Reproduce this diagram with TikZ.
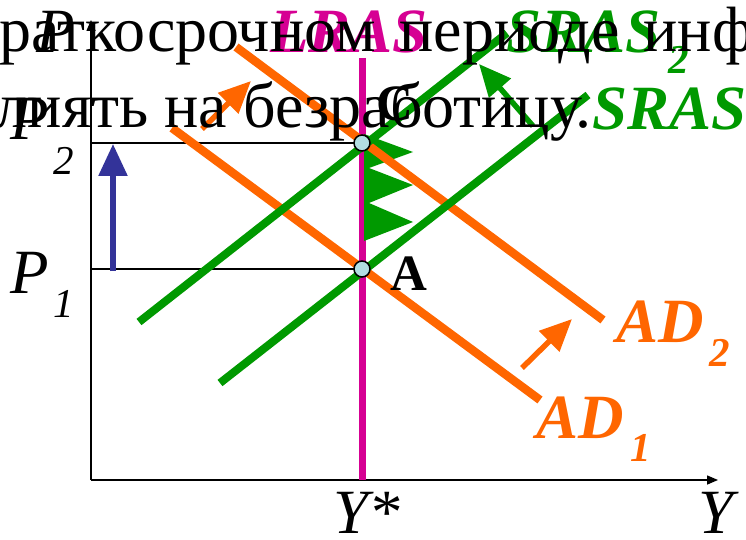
\documentclass[tikz,border=0pt]{standalone}
\usepackage{fontspec}
\setmainfont{Liberation Serif}
\usetikzlibrary{arrows.meta}
\definecolor{orng}{RGB}{255,102,0}
\definecolor{grn}{RGB}{0,153,0}
\definecolor{mag}{RGB}{214,0,147}
\definecolor{blu}{RGB}{51,51,153}
\definecolor{ptfill}{RGB}{178,222,226}
\newcommand\bigtxt{\fontsize{64}{64}\selectfont}
\newcommand\lbltxt{\fontsize{63}{63}\selectfont}
\newcommand\subtxt{\fontsize{41}{41}\selectfont}
\begin{document}
\begin{tikzpicture}[x=1pt,y=-1pt,
  lbl/.style={inner sep=0pt, outer sep=0pt, anchor=base west},
  axisline/.style={line width=1.5pt, -{Triangle[length=11pt,width=9pt]}},
  guide/.style={line width=1.2pt},
  adline/.style={orng, line width=8.5pt},
  asline/.style={grn, line width=8pt},
  lrline/.style={mag, line width=7pt},
  shiftarrow/.style={line width=5.5pt, -{Triangle[length=32pt,width=28pt]}},
  eqpt/.style={circle, draw, line width=1.5pt, fill=ptfill, minimum size=16pt, inner sep=0pt}
]
\useasboundingbox (0,0) rectangle (746,540);
\clip (0,0) rectangle (746,540);
\fill[white] (0,0) rectangle (746,540);

% axes
\coordinate (O) at (91,480);
\coordinate (Xend) at (718,480);
\coordinate (Yend) at (91,20);
\draw[axisline] (O) -- (Xend);
\draw[axisline] (O) -- (Yend);

% key points
\coordinate (Apos) at (362,269);
\coordinate (Cpos) at (362,143);
\coordinate (P1ax) at (91,269);
\coordinate (P2ax) at (91,143);
\draw[guide] (P1ax) -- (Apos);
\draw[guide] (P2ax) -- (Cpos);

% LRAS
\coordinate (LRtop) at (362,58);
\coordinate (LRbot) at (362,480);
\draw[lrline] (LRtop) -- (LRbot);

% green sawtooth between A and C
\fill[grn] (364,134) -- (413,152) -- (369,168) -- (413,185) -- (369,203) -- (413,222) -- (364,241) -- cycle;

% AD curves
\coordinate (AD1a) at (172,128);
\coordinate (AD1b) at (540,400);
\coordinate (AD2a) at (236,47);
\coordinate (AD2b) at (603,320);
\draw[adline] (AD1a) -- (AD1b);
\draw[adline] (AD2a) -- (AD2b);

% SRAS curves
\coordinate (S1a) at (220,383);
\coordinate (S1b) at (588,95);
\coordinate (S2a) at (139,322);
\coordinate (S2b) at (507,33);
\draw[asline] (S1a) -- (S1b);
\draw[asline] (S2a) -- (S2b);

% shift arrows
\coordinate (oa1) at (202,129);
\coordinate (oa1t) at (251,81);
\coordinate (oa2) at (522,368);
\coordinate (oa2t) at (572,319);
\draw[shiftarrow, orng] (oa1) -- (oa1t);
\draw[shiftarrow, orng] (oa2) -- (oa2t);
\coordinate (ga) at (533,126);
\coordinate (gat) at (479,64);
\draw[shiftarrow, grn] (ga) -- (gat);
\coordinate (ba) at (113,271);
\coordinate (bat) at (113,144);
\draw[shiftarrow, blu] (ba) -- (bat);

% points
\node[eqpt] (Cp) at (Cpos) {};
\node[eqpt] (Ap) at (Apos) {};

% labels
\node[lbl, mag] (lrasl) at (270,53) {\lbltxt\bfseries\itshape LRAS};
\node[lbl, grn] (sras2l) at (506,53) {\lbltxt\bfseries\itshape SRAS};
\node[lbl, grn] (sras2s) at (668,74) {\subtxt\bfseries\itshape 2};
\node[lbl, grn] (sras1l) at (592,130) {\lbltxt\bfseries\itshape SRAS};
\node[lbl, orng] (ad2l) at (616,342) {\lbltxt\bfseries\itshape AD};
\node[lbl, orng] (ad2s) at (709,366) {\subtxt\bfseries\itshape 2};
\node[lbl, orng] (ad1l) at (536,438) {\lbltxt\bfseries\itshape AD};
\node[lbl, orng] (ad1s) at (630,461) {\subtxt\bfseries\itshape 1};
\node[lbl] (al) at (390,290) {\fontsize{51}{51}\selectfont\bfseries A};
\node[lbl] (cl) at (376,121) {\fontsize{51}{51}\selectfont\bfseries C};
\node[lbl] (pl) at (36,53) {\lbltxt\itshape P};
\node[lbl] (p2l) at (10,140) {\lbltxt\itshape P};
\node[lbl] (p2s) at (53,175) {\subtxt\itshape 2};
\node[lbl] (p1l) at (10,293) {\lbltxt\itshape P};
\node[lbl] (p1s) at (53,317) {\subtxt\itshape 1};
\node[lbl] (ystarl) at (333,533) {\lbltxt\itshape Y*};
\node[lbl] (yl) at (698,533) {\lbltxt\itshape Y};

% overlaid text (first line justified: wider spaces)
\node[lbl] (line1) at (-1,52) {\bigtxt\llap{к}раткосрочном\hspace{24pt}периоде\hspace{24pt}инфляция};
\node[lbl] (line2) at (-4,128) {\bigtxt\llap{в}лиять на безработицу.};
\end{tikzpicture}
\end{document}
